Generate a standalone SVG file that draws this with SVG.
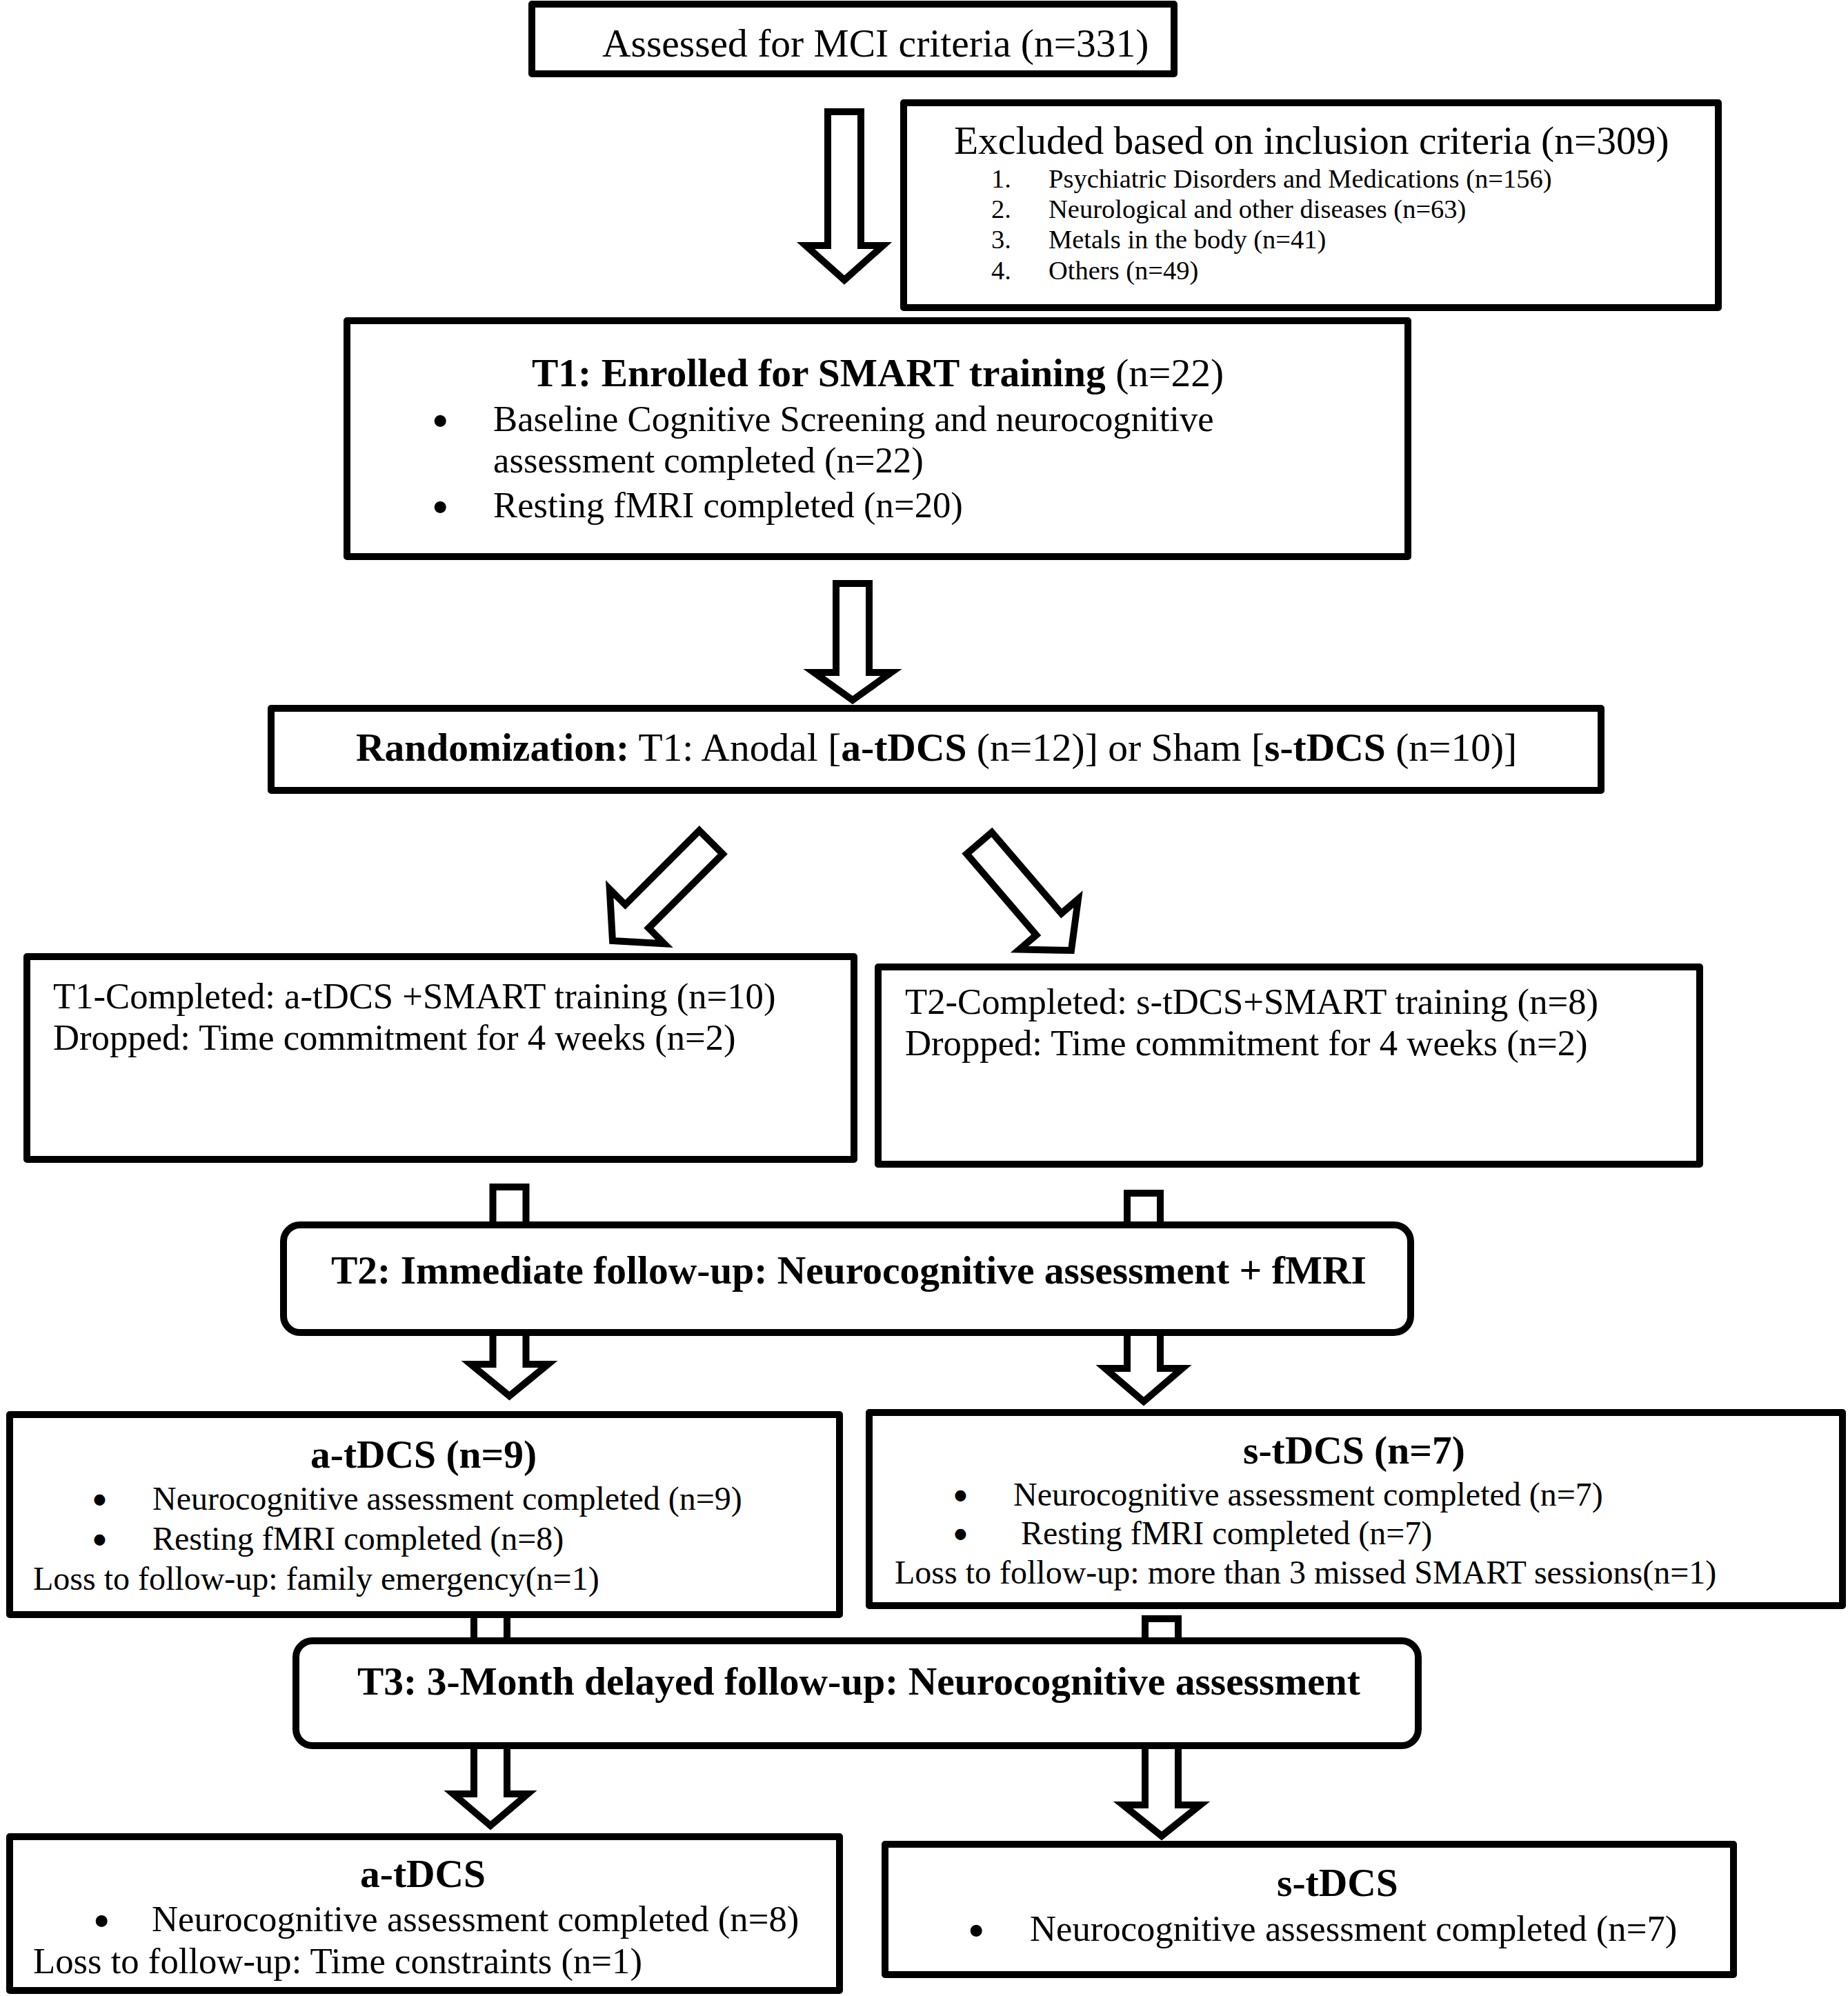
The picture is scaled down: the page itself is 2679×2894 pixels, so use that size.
<svg xmlns="http://www.w3.org/2000/svg" width="2679" height="2894" viewBox="0 0 2679 2894">
<style>
.box{fill:#fff;stroke:#000;stroke-width:10;stroke-linejoin:round}
.arr{fill:#fff;stroke:#000;stroke-width:10;stroke-linejoin:miter;stroke-miterlimit:10}
text{font-family:"Liberation Serif","Times New Roman",serif;fill:#000}
.L{font-size:57.5px}
.M{font-size:52.7px}
.S{font-size:48px}
.XS{font-size:38.5px}
.dot{stroke:#000;stroke-width:4.5px}
.b{font-weight:bold}
</style>
<rect width="2679" height="2894" fill="#fff"/>
<g id="connectors">
  <polygon class="arr" points="-24,-244 24,-244 24,-50 56,-50 0,0 -56,-50 -24,-50" transform="translate(1224,406)"/>
  <polygon class="arr" points="-24,-169 24,-169 24,-40 56,-40 0,0 -56,-40 -24,-40" transform="translate(1236,1015)"/>
  <polygon class="arr" points="-24,-202 24,-202 24,-50 56,-50 0,0 -56,-50 -24,-50" transform="translate(888,1364) rotate(45)"/>
  <polygon class="arr" points="-24,-205 24,-205 24,-50 56,-50 0,0 -56,-50 -24,-50" transform="translate(1553,1378) rotate(-40.6)"/>
  <polygon class="arr" points="-24,0 24,0 24,60 -24,60" transform="translate(738.5,1721)"/>
  <polygon class="arr" points="-24,0 24,0 24,60 -24,60" transform="translate(1658,1730)"/>
  <polygon class="arr" points="-24,-104 24,-104 24,-46 56,-46 0,0 -56,-46 -24,-46" transform="translate(738.5,2024)"/>
  <polygon class="arr" points="-24,-112 24,-112 24,-48 56,-48 0,0 -56,-48 -24,-48" transform="translate(1658,2032)"/>
  <polygon class="arr" points="-24,0 24,0 24,60 -24,60" transform="translate(711,2330)"/>
  <polygon class="arr" points="-24,0 24,0 24,45 -24,45" transform="translate(1684,2347)"/>
  <polygon class="arr" points="-24,-127 24,-127 24,-46 54,-46 0,0 -54,-46 -24,-46" transform="translate(711,2647)"/>
  <polygon class="arr" points="-24,-142 24,-142 24,-45 56,-45 0,0 -56,-45 -24,-45" transform="translate(1684,2662)"/>
</g>
<g id="assessed">
  <rect class="box" x="771" y="6" width="931" height="101"/>
  <text class="L" x="873" y="82">Assessed for MCI criteria (n=331)</text>
</g>
<g id="excluded">
  <rect class="box" x="1310" y="149" width="1181" height="297"/>
  <text class="L" x="1383" y="223">Excluded based on inclusion criteria (n=309)</text>
  <text class="XS" x="1437" y="272">1.</text><text class="XS" x="1520" y="272">Psychiatric Disorders and Medications (n=156)</text>
  <text class="XS" x="1437" y="316">2.</text><text class="XS" x="1520" y="316">Neurological and other diseases (n=63)</text>
  <text class="XS" x="1437" y="360">3.</text><text class="XS" x="1520" y="360">Metals in the body (n=41)</text>
  <text class="XS" x="1437" y="405">4.</text><text class="XS" x="1520" y="405">Others (n=49)</text>
</g>
<g id="enrolled">
  <rect class="box" x="503" y="465" width="1538" height="342"/>
  <text class="L" x="771" y="560"><tspan class="b">T1: Enrolled for SMART training</tspan> (n=22)</text>
  <text class="M dot" x="629" y="628">•</text>
  <text class="M" x="715" y="625">Baseline Cognitive Screening and neurocognitive</text>
  <text class="M" x="715" y="685">assessment completed (n=22)</text>
  <text class="M dot" x="629" y="753">•</text>
  <text class="M" x="715" y="750">Resting fMRI completed (n=20)</text>
</g>
<g id="randomization">
  <rect class="box" x="393" y="1027" width="1928" height="119"/>
  <text class="L" x="516" y="1103"><tspan class="b">Randomization:</tspan> T1: Anodal [<tspan class="b">a-tDCS</tspan> (n=12)] or Sham [<tspan class="b">s-tDCS</tspan> (n=10)]</text>
</g>
<g id="t1-completed">
  <rect class="box" x="39" y="1387" width="1199" height="294"/>
  <text class="M" x="77" y="1462">T1-Completed: a-tDCS +SMART training (n=10)</text>
  <text class="M" x="77" y="1522">Dropped: Time commitment for 4 weeks (n=2)</text>
</g>
<g id="t2-completed">
  <rect class="box" x="1273" y="1402" width="1191" height="286"/>
  <text class="M" x="1312" y="1470">T2-Completed: s-tDCS+SMART training (n=8)</text>
  <text class="M" x="1312" y="1530">Dropped: Time commitment for 4 weeks (n=2)</text>
</g>
<g id="t2-followup">
  <rect class="box" x="411" y="1776" width="1634" height="156" rx="24"/>
  <text class="L b" x="480" y="1861">T2: Immediate follow-up: Neurocognitive assessment + fMRI</text>
</g>
<g id="a-tdcs-t2">
  <rect class="box" x="14" y="2051" width="1203" height="290"/>
  <text class="L b" x="450" y="2128">a-tDCS (n=9)</text>
  <text class="S dot" x="136" y="2191">•</text>
  <text class="S" x="221" y="2189">Neurocognitive assessment completed (n=9)</text>
  <text class="S dot" x="136" y="2249">•</text>
  <text class="S" x="221" y="2247">Resting fMRI completed (n=8)</text>
  <text class="S" x="48" y="2305">Loss to follow-up: family emergency(n=1)</text>
</g>
<g id="s-tdcs-t2">
  <rect class="box" x="1260" y="2048" width="1411" height="280"/>
  <text class="L b" x="1802" y="2122">s-tDCS (n=7)</text>
  <text class="S dot" x="1384" y="2185">•</text>
  <text class="S" x="1469" y="2183">Neurocognitive assessment completed (n=7)</text>
  <text class="S dot" x="1384" y="2241">•</text>
  <text class="S" x="1480" y="2239">Resting fMRI completed (n=7)</text>
  <text class="S" x="1297" y="2296">Loss to follow-up: more than 3 missed SMART sessions(n=1)</text>
</g>
<g id="t3-followup">
  <rect class="box" x="429" y="2379" width="1627" height="152" rx="24"/>
  <text class="L b" x="518" y="2457">T3: 3-Month delayed follow-up: Neurocognitive assessment</text>
</g>
<g id="a-tdcs-t3">
  <rect class="box" x="14" y="2663" width="1203" height="223"/>
  <text class="L b" x="522" y="2736">a-tDCS</text>
  <text class="M dot" x="138" y="2803">•</text>
  <text class="M" x="220" y="2800">Neurocognitive assessment completed (n=8)</text>
  <text class="M" x="48" y="2861">Loss to follow-up: Time constraints (n=1)</text>
</g>
<g id="s-tdcs-t3">
  <rect class="box" x="1283" y="2674" width="1230" height="189"/>
  <text class="L b" x="1851" y="2749">s-tDCS</text>
  <text class="M dot" x="1406" y="2817">•</text>
  <text class="M" x="1493" y="2814">Neurocognitive assessment completed (n=7)</text>
</g>
</svg>
